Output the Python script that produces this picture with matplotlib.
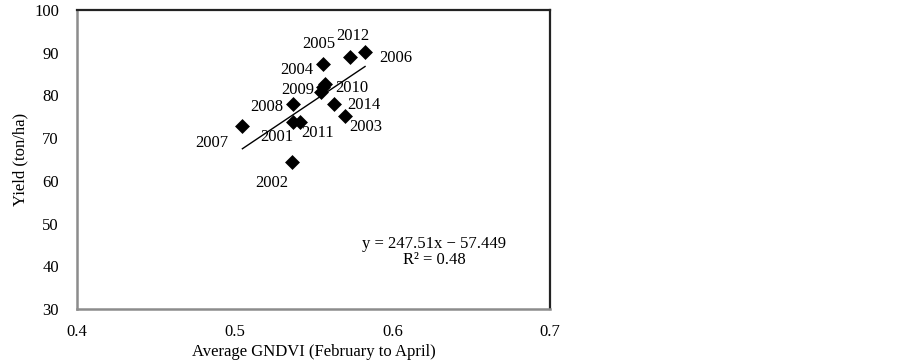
import matplotlib
matplotlib.use("Agg")
import matplotlib.pyplot as plt
import numpy as np

plt.rcParams['font.family'] = ['Liberation Serif', 'DejaVu Serif']

years = ['2001', '2002', '2003', '2004', '2005', '2006', '2007',
         '2008', '2009', '2010', '2011', '2012', '2014']
gndvi = [0.537, 0.5362, 0.570, 0.557, 0.5562, 0.5827, 0.5049,
         0.537, 0.5545, 0.5562, 0.5414, 0.5734, 0.563]
yield_t = [73.7, 64.4, 75.3, 82.7, 87.3, 90.1, 72.8,
           78.0, 80.7, 81.9, 73.7, 88.9, 78.1]
slope, intercept = 247.51, -57.449
r2 = 0.48

# label offsets in pixels (dx, dy) -- positioning only
offsets = {
    '2001': (-16, -15), '2002': (-20, -21), '2003': (21, -11),
    '2004': (-28, 14), '2005': (-4, 20), '2006': (31, -6),
    '2007': (-31, -17), '2008': (-26, -3), '2009': (-23, 2),
    '2010': (29, -1), '2011': (18, -11), '2012': (2, 21),
    '2014': (30, -1),
}

FS = 12

fig = plt.figure(figsize=(9.03, 3.63), dpi=100)
ax = fig.add_axes([77/903, 1-309/363, (550-77)/903, (309-10)/363])

ax.scatter(gndvi, yield_t, marker='D', s=7.6**2, color='black', zorder=3,
           linewidths=0)
xs = np.array([min(gndvi), max(gndvi)])
ax.plot(xs, slope*xs + intercept, color='black', lw=1.0, zorder=2)

for yr, x, y in zip(years, gndvi, yield_t):
    dx, dy = offsets[yr]
    ax.annotate(yr, (x, y), xytext=(dx, dy), textcoords='offset pixels',
                ha='center', va='center', fontsize=FS)

ax.text(0.6267, 45.2, f'y = {slope}x − {abs(intercept)}', ha='center',
        va='center', fontsize=FS)
ax.text(0.6267, 41.4, f'R² = {r2}', ha='center', va='center', fontsize=FS)

ax.set_xlim(0.4, 0.7)
ax.set_ylim(30, 100)
ax.set_xticks([0.4, 0.5, 0.6, 0.7])
ax.set_xticklabels(['0.4', '0.5', '0.6', '0.7'])
ax.set_yticks(range(30, 101, 10))
ax.tick_params(axis='both', length=0, labelsize=FS)
ax.tick_params(axis='x', pad=11)
ax.tick_params(axis='y', pad=13)

for s in ['left', 'bottom']:
    ax.spines[s].set_color('#8c8c8c')
    ax.spines[s].set_linewidth(1.8)
for s in ['top', 'right']:
    ax.spines[s].set_color('#222222')
    ax.spines[s].set_linewidth(1.6)

ax.set_xlabel('Average GNDVI (February to April)', fontsize=FS, labelpad=3)
ax.set_ylabel('Yield (ton/ha)', fontsize=FS, labelpad=4)

fig.savefig('out.png', dpi=100)
